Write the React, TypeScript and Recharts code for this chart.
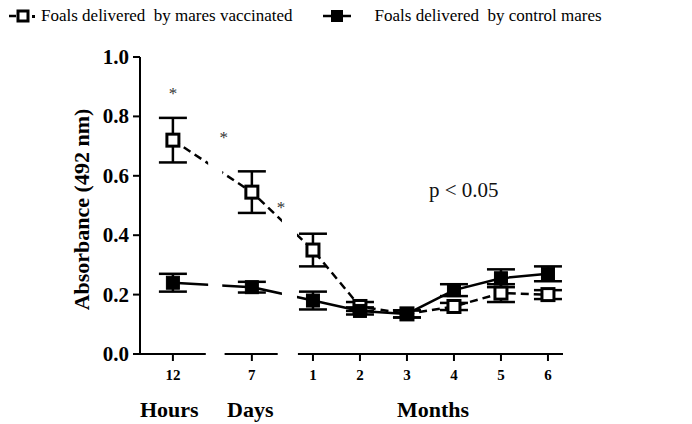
import React from "react";
import {
  LineChart,
  Line,
  XAxis,
  YAxis,
  ErrorBar,
  ReferenceLine,
  ReferenceArea,
  ReferenceDot,
  Label,
} from "recharts";

// time points (broken axis: hours | days | months)
const timeLabels = ["12", "7", "1", "2", "3", "4", "5", "6"];
// position of each time point along the broken axis (in month-spacing units)
const xSlots = [0, 1.68, 2.98, 3.98, 4.98, 5.98, 6.98, 7.98];

const vaccinated = [0.72, 0.545, 0.35, 0.16, 0.135, 0.16, 0.205, 0.2];
const vaccinatedErr = [0.075, 0.07, 0.055, 0.015, 0.012, 0.012, 0.03, 0.015];
const control = [0.24, 0.225, 0.18, 0.145, 0.135, 0.215, 0.255, 0.27];
const controlErr = [0.03, 0.018, 0.03, 0.012, 0.012, 0.02, 0.03, 0.025];

// axis pieces and gaps of the broken axis
const axisPieces = [
  [-0.7, 0.7],
  [1.1, 2.23],
  [2.66, 8.3],
];
const lineGaps = [
  [0.75, 1.05],
  [2.32, 2.64],
];
const stars = [
  { x: 0, y: 0.88 },
  { x: 1.08, y: 0.73 },
  { x: 2.3, y: 0.495 },
];

const data = xSlots.map((slot, i) => ({
  slot,
  vacc: vaccinated[i],
  vaccErr: vaccinatedErr[i],
  ctrl: control[i],
  ctrlErr: controlErr[i],
}));

const FONT = '"Liberation Serif", "Times New Roman", serif';

const OpenSquare = (props: any) => {
  const { cx, cy } = props;
  if (cx == null || cy == null) return null;
  return <rect x={cx - 6} y={cy - 6} width={12} height={12} fill="#fff" stroke="#000" strokeWidth={3} />;
};

const FilledSquare = (props: any) => {
  const { cx, cy } = props;
  if (cx == null || cy == null) return null;
  return <rect x={cx - 6.5} y={cy - 6.5} width={13} height={13} fill="#000" stroke="#000" strokeWidth={1} />;
};

const XTick = (props: any) => {
  const { x, y, payload } = props;
  const i = xSlots.indexOf(payload.value);
  return (
    <text x={x} y={y + 17} textAnchor="middle" fontFamily={FONT} fontWeight="bold" fontSize={15} fill="#000">
      {timeLabels[i]}
    </text>
  );
};

const YTick = (props: any) => {
  const { x, y, payload } = props;
  return (
    <text x={x - 2} y={y + 7} textAnchor="end" fontFamily={FONT} fontWeight="bold" fontSize={21} fill="#000">
      {Number(payload.value).toFixed(1)}
    </text>
  );
};

const App: React.FC = () => {
  return (
    <div style={{ position: "absolute", left: 0, top: 0, width: 692, height: 424, background: "#fff", fontFamily: FONT }}>
      {/* legend */}
      <div style={{ position: "absolute", left: 8, top: 6, display: "flex", alignItems: "center", fontSize: 17, color: "#000", whiteSpace: "nowrap" }}>
        <svg width={32} height={16}>
          <line x1={1} y1={8} x2={8} y2={8} stroke="#000" strokeWidth={2.5} />
          <rect x={10} y={3} width={10} height={10} fill="#fff" stroke="#000" strokeWidth={3} />
          <rect x={24} y={7} width={3} height={3} fill="#000" />
        </svg>
        <span style={{ marginLeft: 1 }}>Foals delivered&nbsp; by mares vaccinated</span>
        <svg width={34} height={16} style={{ marginLeft: 28 }}>
          <line x1={2} y1={8} x2={30} y2={8} stroke="#000" strokeWidth={2.5} />
          <rect x={10} y={2} width={12} height={12} fill="#000" />
        </svg>
        <span style={{ marginLeft: 20 }}>Foals delivered&nbsp; by control mares</span>
      </div>

      <div style={{ position: "absolute", left: 0, top: 0 }}>
        <LineChart width={692} height={424} data={data} margin={{ top: 57, right: 129, left: 80, bottom: 30 }}>
          <XAxis
            type="number"
            dataKey="slot"
            domain={[-0.7, 8.3]}
            ticks={xSlots}
            allowDataOverflow
            axisLine={false}
            tickLine={{ stroke: "#000", strokeWidth: 2 }}
            tickSize={7}
            tick={<XTick />}
            height={40}
          />
          <YAxis
            domain={[0, 1]}
            ticks={[0, 0.2, 0.4, 0.6, 0.8, 1.0]}
            axisLine={{ stroke: "#000", strokeWidth: 2 }}
            tickLine={{ stroke: "#000", strokeWidth: 2 }}
            tickSize={7}
            width={60}
            tick={<YTick />}
          >
            <Label
              value="Absorbance  (492 nm)"
              angle={-90}
              position="insideLeft"
              offset={1}
              dy={4}
              textAnchor="middle"
              fontFamily={FONT}
              fontWeight="bold"
              fontSize={22}
              fill="#000"
            />
          </YAxis>
          {axisPieces.map(([a, b], i) => (
            <ReferenceLine
              key={"ax" + i}
              segment={[{ x: a, y: 0 }, { x: b, y: 0 }]}
              stroke="#000"
              strokeWidth={2}
              ifOverflow="visible"
            />
          ))}
          <Line
            type="linear"
            dataKey="vacc"
            stroke="#000"
            strokeWidth={2.5}
            strokeDasharray="8 5"
            dot={<OpenSquare />}
            activeDot={false}
            isAnimationActive={false}
          >
            <ErrorBar dataKey="vaccErr" direction="y" width={14} stroke="#000" strokeWidth={2.5} />
          </Line>
          <Line
            type="linear"
            dataKey="ctrl"
            stroke="#000"
            strokeWidth={2.5}
            dot={<FilledSquare />}
            activeDot={false}
            isAnimationActive={false}
          >
            <ErrorBar dataKey="ctrlErr" direction="y" width={14} stroke="#000" strokeWidth={2.5} />
          </Line>
          {lineGaps.map(([a, b], i) => (
            <ReferenceArea key={"gap" + i} x1={a} x2={b} y1={0.02} y2={1} fill="#fff" fillOpacity={1} stroke="none" zIndex={1000} />
          ))}
          {stars.map((s, i) => (
            <ReferenceDot key={"st" + i} x={s.x} y={s.y} r={0} stroke="none" zIndex={1100}>
              <Label value="*" position="center" fontFamily={FONT} fontSize={17} fill="#333" />
            </ReferenceDot>
          ))}
          <ReferenceDot x={6.19} y={0.555} r={0} stroke="none">
            <Label value="p < 0.05" position="center" fontFamily={FONT} fontSize={21} fill="#111" />
          </ReferenceDot>
        </LineChart>
      </div>

      {/* axis group labels */}
      {[
        { text: "Hours", left: 140 },
        { text: "Days", left: 227 },
        { text: "Months", left: 397 },
      ].map((g) => (
        <div key={g.text} style={{ position: "absolute", left: g.left, top: 397, fontWeight: "bold", fontSize: 22, color: "#000", lineHeight: "normal" }}>
          {g.text}
        </div>
      ))}
    </div>
  );
};

export default App;
